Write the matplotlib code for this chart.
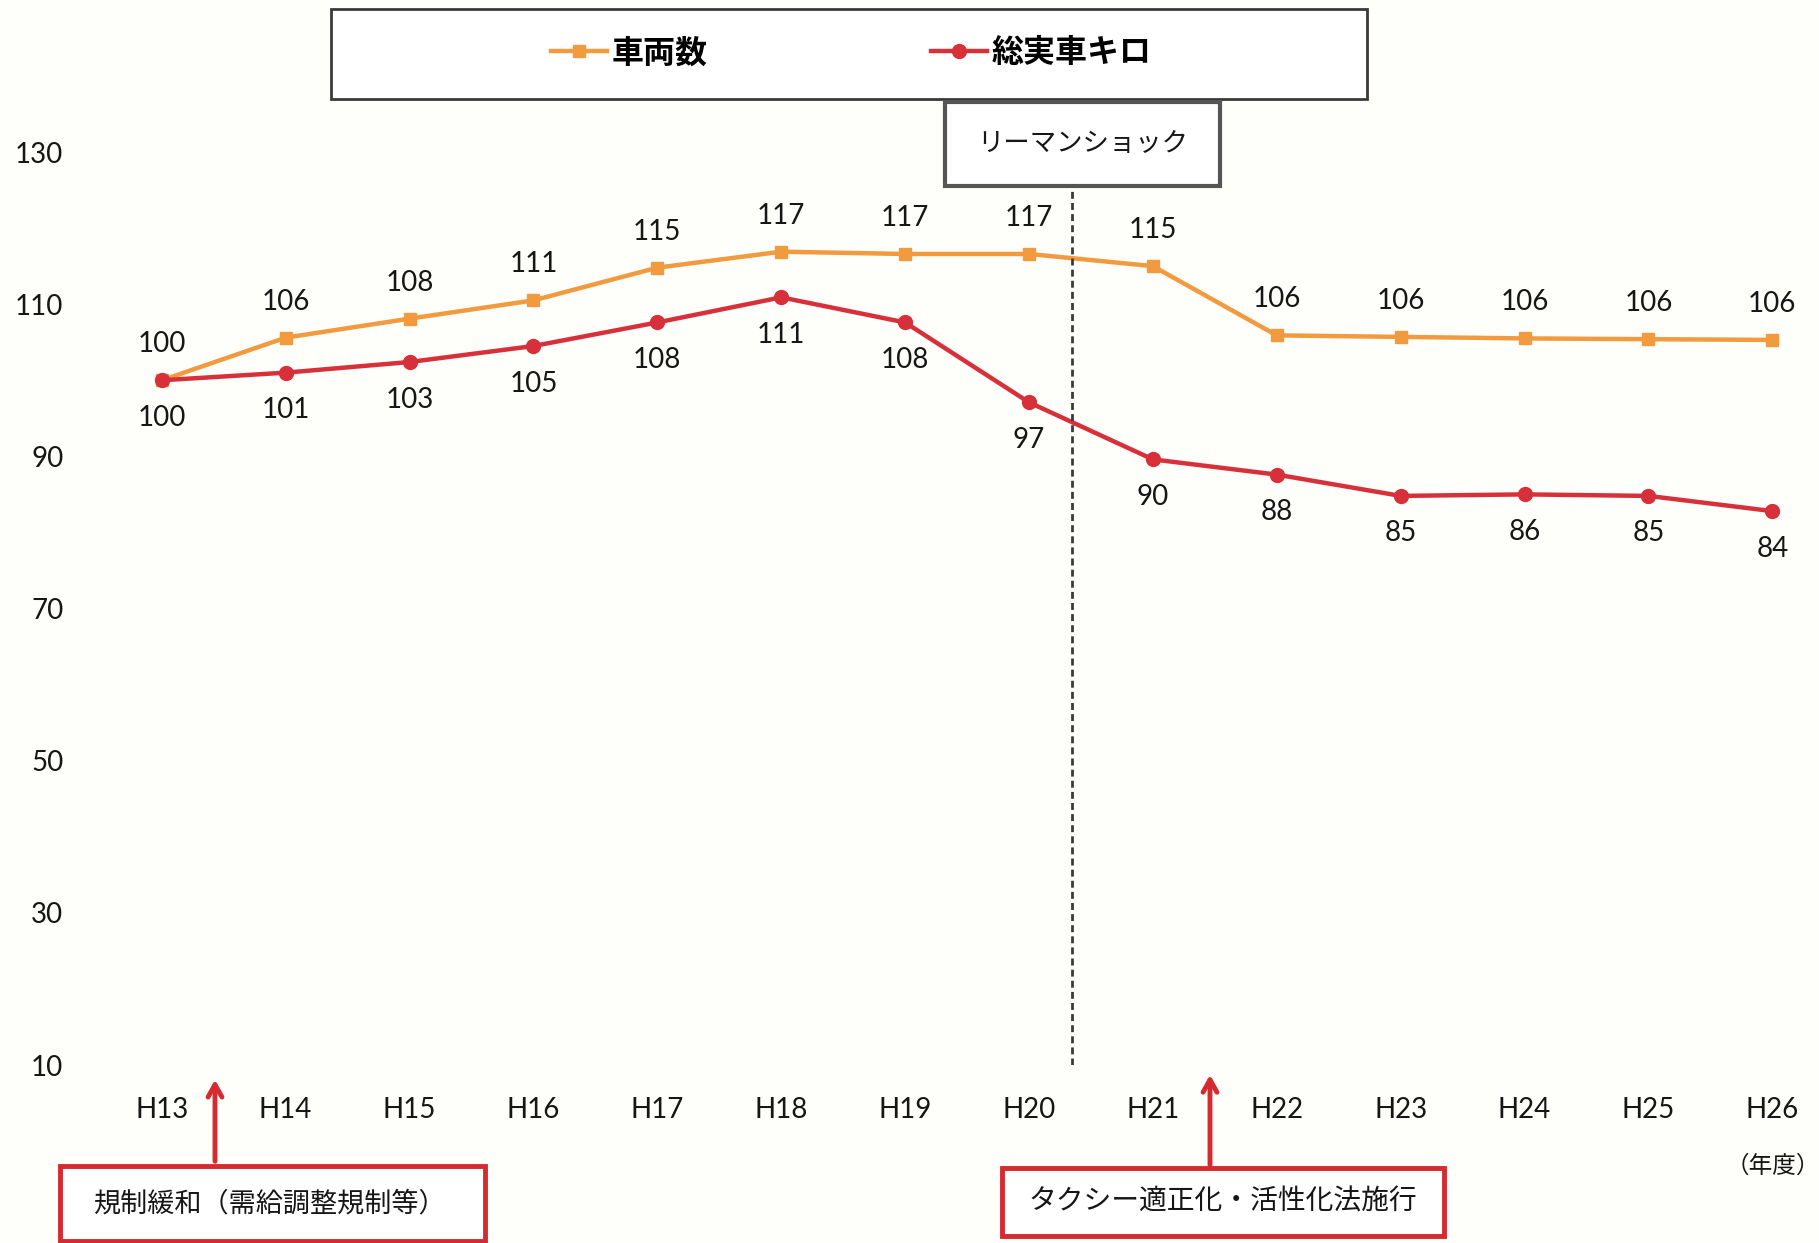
import matplotlib.pyplot as plt
from matplotlib.patches import Rectangle

# fonts: Latin digits in Lato, Japanese falls back to Noto Sans CJK JP
plt.rcParams['font.family'] = ['Lato', 'Noto Sans CJK JP']

years = ['H13', 'H14', 'H15', 'H16', 'H17', 'H18', 'H19',
         'H20', 'H21', 'H22', 'H23', 'H24', 'H25', 'H26']

# 車両数 (index, H13 = 100)
vehicles = [100, 105.6, 108.1, 110.5, 114.8, 116.9, 116.6,
            116.6, 115.0, 105.9, 105.7, 105.5, 105.4, 105.3]
vehicles_labels = ['100', '106', '108', '111', '115', '117', '117',
                   '117', '115', '106', '106', '106', '106', '106']

# 総実車キロ (index, H13 = 100)
km = [100, 101.0, 102.4, 104.5, 107.6, 110.9, 107.6,
      97.1, 89.6, 87.6, 84.8, 85.0, 84.8, 82.8]
km_labels = ['100', '101', '103', '105', '108', '111', '108',
             '97', '90', '88', '85', '86', '85', '84']

yticks = [10, 30, 50, 70, 90, 110, 130]

orange = '#f29a3e'
red = '#d7303a'
bg = '#fefefa'
ink = '#161616'

fig = plt.figure(figsize=(18.19, 12.43), dpi=100, facecolor=bg)
ax = fig.add_axes([0.044, 0.1432, 0.946, 0.7345])
ax.set_facecolor(bg)

x = list(range(len(years)))
ax.plot(x, vehicles, color=orange, linewidth=3.2, marker='s', markersize=8,
        label='車両数')
ax.plot(x, km, color=red, linewidth=3.2, marker='o', markersize=10,
        label='総実車キロ')

# data labels
for i in x:
    ax.annotate(vehicles_labels[i], (i, vehicles[i]), xytext=(0, 26),
                textcoords='offset points', ha='center', va='center',
                fontsize=20, color=ink)
    ax.annotate(km_labels[i], (i, km[i]), xytext=(0, -27),
                textcoords='offset points', ha='center', va='center',
                fontsize=20, color=ink)

ax.set_xlim(-0.66, 13.23)
ax.set_ylim(10, 130)
ax.set_xticks(x)
ax.set_xticklabels(years)
ax.set_yticks(yticks)
ax.tick_params(length=0, labelsize=20, colors=ink)
ax.tick_params(axis='x', pad=23)
ax.tick_params(axis='y', pad=12)
for s in ax.spines.values():
    s.set_visible(False)

# リーマンショック marker line
shock_x = 7.35
ax.plot([shock_x, shock_x], [10, 125.5], color='#3a3a3a', linewidth=2,
        linestyle=(0, (2.5, 1.5)))

# legend inside a framed box above the plot
fig.patches.append(Rectangle((0.182, 0.9204), 0.5695, 0.0724,
                             transform=fig.transFigure, fill=True,
                             facecolor='white', edgecolor='#3a3a3a',
                             linewidth=2))
leg = fig.legend(loc='center', bbox_to_anchor=(0.468, 0.958), ncol=2,
                 frameon=False, handlelength=1.75, handletextpad=0.15,
                 columnspacing=7, prop={'size': 23, 'weight': 'bold'})

# リーマンショック box
fig.patches.append(Rectangle((0.5195, 0.8504), 0.1512, 0.0676,
                             transform=fig.transFigure, facecolor='white',
                             edgecolor='#555555', linewidth=3))
fig.text(0.5952, 0.8842, 'リーマンショック', ha='center', va='center',
         fontsize=19, color=ink)

# bottom annotation boxes with red arrows
fig.patches.append(Rectangle((0.033, 0.0016), 0.2336, 0.0603,
                             transform=fig.transFigure, facecolor='white',
                             edgecolor='#d42a30', linewidth=3.5))
fig.text(0.148, 0.032, '規制緩和（需給調整規制等）', ha='center', va='center',
         fontsize=19.5, color=ink)
ax.annotate('', xy=(0.1182, 0.1337), xytext=(0.1182, 0.0635),
            xycoords='figure fraction', textcoords='figure fraction',
            arrowprops=dict(arrowstyle='->,head_length=0.9,head_width=0.5',
                            color='#d42a30', linewidth=3.5))

fig.patches.append(Rectangle((0.5509, 0.0056), 0.243, 0.0547,
                             transform=fig.transFigure, facecolor='white',
                             edgecolor='#d42a30', linewidth=3.5))
fig.text(0.672, 0.0338, 'タクシー適正化・活性化法施行', ha='center',
         va='center', fontsize=20, color=ink)
ax.annotate('', xy=(0.6652, 0.1376), xytext=(0.6652, 0.0605),
            xycoords='figure fraction', textcoords='figure fraction',
            arrowprops=dict(arrowstyle='->,head_length=0.9,head_width=0.5',
                            color='#d42a30', linewidth=3.5))

fig.text(0.9747, 0.0627, '（年度）', ha='center', va='center', fontsize=17,
         color=ink)

fig.savefig('out.png', dpi=100, facecolor=bg)
